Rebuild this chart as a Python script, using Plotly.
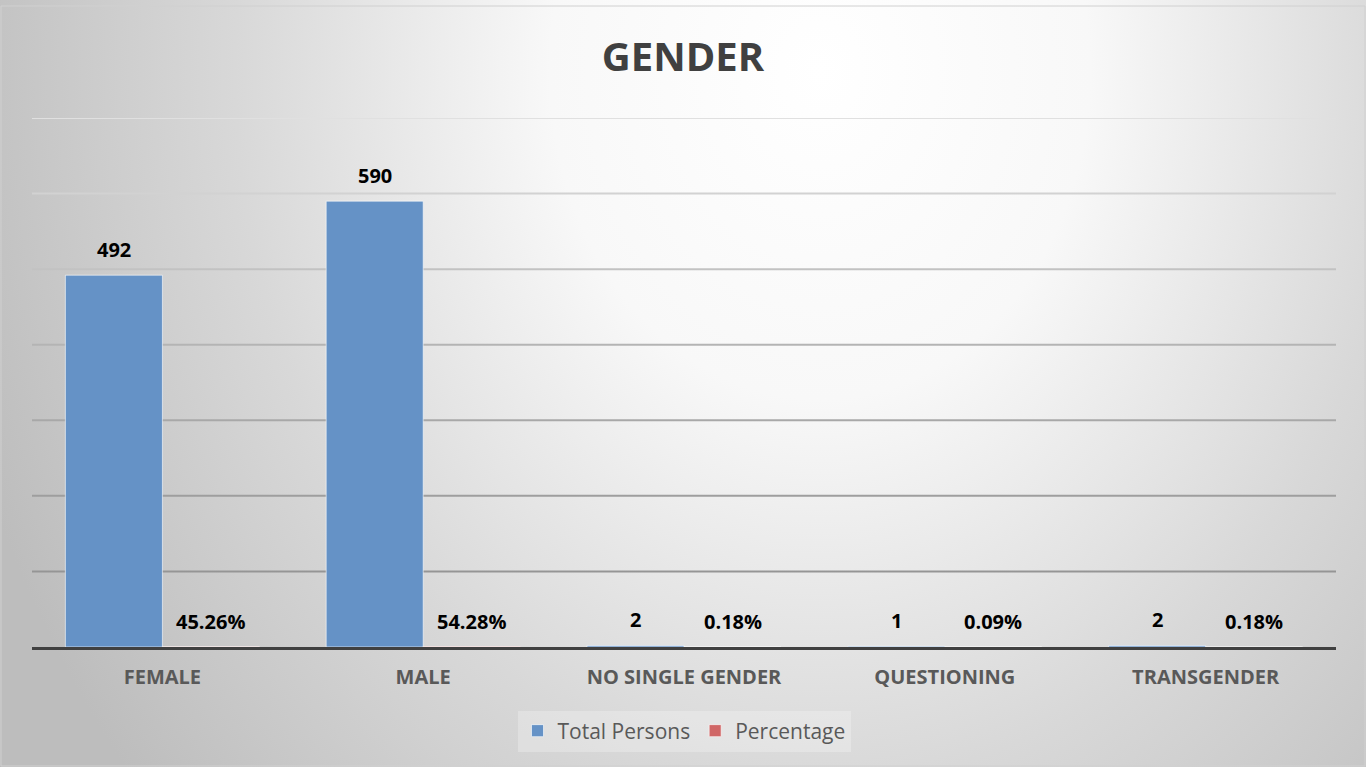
import plotly.graph_objects as go

# chart data
categories = ["FEMALE", "MALE", "NO SINGLE GENDER", "QUESTIONING", "TRANSGENDER"]
total_persons = [492, 590, 2, 1, 2]
percentage = [0.4526, 0.5428, 0.0018, 0.0009, 0.0018]

# gridlines fade out towards the top in the original
grid_values = [100, 200, 300, 400, 500, 600, 700]
grid_colors = ["#959595", "#9e9e9e", "#a8a8a8", "#b4b4b4", "#c2c2c2", "#d2d2d2", "#e0e0e0"]

label_font = dict(family="Open Sans", size=20, color="#000000", weight="bold")

# radial grey gradient like the Excel chart area
bg_svg = (
    "data:image/svg+xml;utf8,"
    "<svg xmlns='http://www.w3.org/2000/svg' width='1366' height='767' viewBox='0 0 1366 767' preserveAspectRatio='none'>"
    "<defs><radialGradient id='g' gradientUnits='userSpaceOnUse' cx='820' cy='70' r='900' "
    "gradientTransform='translate(820,70) scale(1,1.22) translate(-820,-70)'>"
    "<stop offset='0' stop-color='%23ffffff'/>"
    "<stop offset='0.3' stop-color='%23f8f8f8'/>"
    "<stop offset='0.65' stop-color='%23d8d8d8'/>"
    "<stop offset='1' stop-color='%23bdbdbd'/>"
    "</radialGradient></defs>"
    "<rect width='1366' height='767' fill='url(%23g)'/></svg>"
)

fig = go.Figure()

fig.add_trace(go.Bar(
    x=categories,
    y=total_persons,
    name="Total Persons",
    marker=dict(color="#6592c6", line=dict(color="rgba(255,255,255,0.6)", width=1)),
))

fig.add_trace(go.Bar(
    x=categories,
    y=percentage,
    name="Percentage",
    marker=dict(color="#d06666", line=dict(color="rgba(255,255,255,0.6)", width=1)),
))

# data labels sit a little higher above the bars than plotly's "outside" text
annotations = []
for cat, n, p in zip(categories, total_persons, percentage):
    annotations.append(dict(
        x=cat, y=n, text=str(n), xshift=-48.5, yshift=10,
        showarrow=False, yanchor="bottom", font=label_font,
    ))
    annotations.append(dict(
        x=cat, y=p, text=f"{p * 100:.2f}%", xshift=48.5, yshift=10,
        showarrow=False, yanchor="bottom", font=label_font,
    ))

shapes = []
for val, col in zip(grid_values, grid_colors):
    shapes.append(dict(
        type="line", xref="paper", yref="y",
        x0=0, x1=1, y0=val, y1=val,
        line=dict(color=col, width=2),
        layer="below",
    ))

# thin chart border
shapes.append(dict(
    type="rect",
    xref="paper", yref="paper",
    x0=-31 / 1304, x1=1 + 29 / 1304,
    y0=-119 / 529, y1=1 + 112 / 529,
    line=dict(color="#d0d0d0", width=1),
    fillcolor="rgba(0,0,0,0)",
    layer="below",
))

fig.update_layout(
    width=1366,
    height=767,
    margin=dict(l=32, r=30, t=118, b=120),
    paper_bgcolor="rgba(0,0,0,0)",
    plot_bgcolor="rgba(0,0,0,0)",
    barmode="group",
    bargap=0.256,
    bargroupgap=0,
    title=dict(
        text="GENDER",
        x=0.5,
        xanchor="center",
        y=1 - 57 / 767,
        yanchor="middle",
        font=dict(family="Open Sans", size=40, color="#404040", weight="bold"),
    ),
    xaxis=dict(
        tickfont=dict(family="Open Sans", size=20, color="#595959", weight="bold"),
        showline=True,
        linecolor="#404040",
        linewidth=3,
        ticks="",
        ticklabelstandoff=10,
    ),
    yaxis=dict(
        range=[0, 700],
        showticklabels=False,
        showgrid=False,
        zeroline=False,
    ),
    legend=dict(
        orientation="h",
        x=0.5,
        xanchor="center",
        y=-0.1588,
        yanchor="middle",
        bgcolor="rgba(255,255,255,0.25)",
        font=dict(family="Open Sans", size=21, color="#595959"),
        traceorder="normal",
    ),
    images=[dict(
        source=bg_svg,
        xref="paper", yref="paper",
        x=-32 / 1304, y=1 + 118 / 529,
        sizex=1366 / 1304, sizey=767 / 529,
        xanchor="left", yanchor="top",
        sizing="stretch",
        layer="below",
    )],
    shapes=shapes,
    annotations=annotations,
)

fig.write_html(
    "out.html",
    config={"displayModeBar": False},
    post_script="document.body.style.margin='0';",
)
